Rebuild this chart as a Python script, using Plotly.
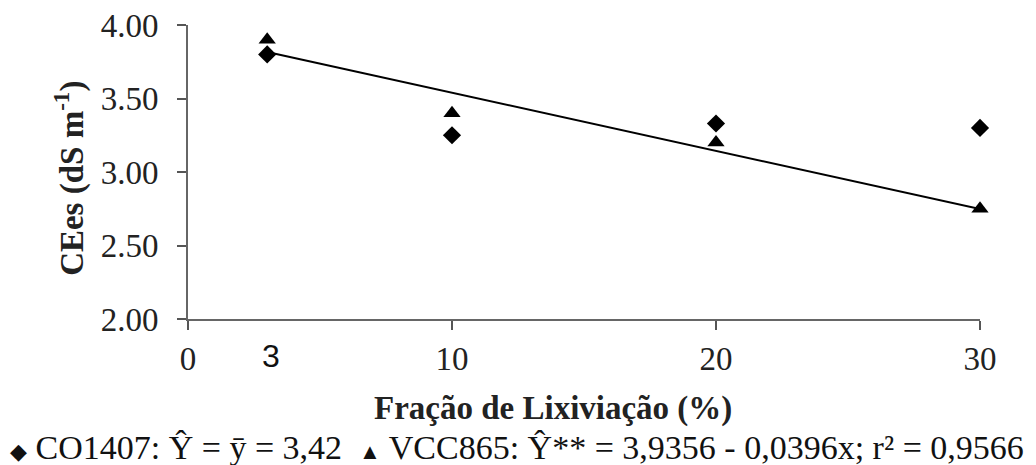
import plotly.graph_objects as go

fracao = [3, 10, 20, 30]
co1407 = [3.80, 3.25, 3.33, 3.30]
vcc865 = [3.90, 3.40, 3.20, 2.75]
reg_a, reg_b = 3.9356, -0.0396
reg_x = [3, 30]
reg_y = [reg_a + reg_b * x for x in reg_x]
x_ticks = [0, 10, 20, 30]
y_ticks = [2.0, 2.5, 3.0, 3.5, 4.0]

SERIF = "Liberation Serif"
FS = 33

fig = go.Figure()
fig.add_trace(go.Scatter(x=reg_x, y=reg_y, mode="lines",
                         line=dict(color="black", width=2), showlegend=False,
                         hoverinfo="skip"))
fig.add_trace(go.Scatter(x=fracao, y=co1407, mode="markers", name="CO1407",
                         marker=dict(symbol="diamond", size=14, color="black"),
                         cliponaxis=False, showlegend=False))
fig.add_trace(go.Scatter(x=fracao, y=vcc865, mode="markers", name="VCC865",
                         marker=dict(symbol="triangle-up", size=15, color="black"),
                         cliponaxis=False, showlegend=False))

fig.update_layout(
    width=1036, height=465,
    margin=dict(l=180, r=64, t=17, b=154),
    plot_bgcolor="white", paper_bgcolor="white",
    font=dict(family=SERIF, size=FS, color="#222"),
    showlegend=False,
)
fig.update_xaxes(
    range=[0, 30], tickvals=x_ticks, ticktext=[str(v) for v in x_ticks],
    showgrid=False, zeroline=False, showline=True, linecolor="#666", linewidth=2,
    ticks="outside", ticklen=9, tickwidth=1.5, tickcolor="#555",
    ticklabelstandoff=0, automargin=False, ticklabeloverflow="allow",
)
fig.update_yaxes(
    range=[2.0, 4.0], tickvals=y_ticks, ticktext=[f"{v:.2f}" for v in y_ticks],
    showgrid=False, zeroline=False, showline=True, linecolor="#666", linewidth=2,
    ticks="outside", ticklen=9, tickwidth=1.5, tickcolor="#555",
    ticklabelstandoff=12, automargin=False, ticklabeloverflow="allow",
)
# y-axis title
fig.add_annotation(x=-0.149, y=0.48, xref="paper", yref="paper",
                   text="<b>CEes (dS m<sup>-1</sup>)</b>", showarrow=False, textangle=-90,
                   xanchor="center", yanchor="middle",
                   font=dict(family=SERIF, size=FS, color="#222"))
# extra tick label "3" (different font in the original)
fig.add_annotation(x=3, y=0, xref="x", yref="paper", text="3", showarrow=False,
                   xanchor="center", yanchor="middle", yshift=-37, xshift=4,
                   font=dict(family="Liberation Sans", size=FS - 1, color="#111"))
# x-axis title
fig.add_annotation(x=0.461, y=0, xref="paper", yref="paper",
                   text="<b>Fração de Lixiviação (%)</b>", showarrow=False,
                   xanchor="center", yanchor="middle", yshift=-89,
                   font=dict(family=SERIF, size=FS, color="#222"))
# legend line
fig.add_annotation(x=0.4154, y=0, xref="paper", yref="paper",
                   text="<span style='font-size:22px'>◆</span> CO1407: Ŷ = ȳ = 3,42  "
                        "<span style='font-size:22px'>▲</span> VCC865: Ŷ** = 3,9356 - 0,0396x; r² = 0,9566",
                   showarrow=False, xanchor="center", yanchor="middle", yshift=-128,
                   font=dict(family=SERIF, size=34, color="#111"))

fig.write_html("out.html")
